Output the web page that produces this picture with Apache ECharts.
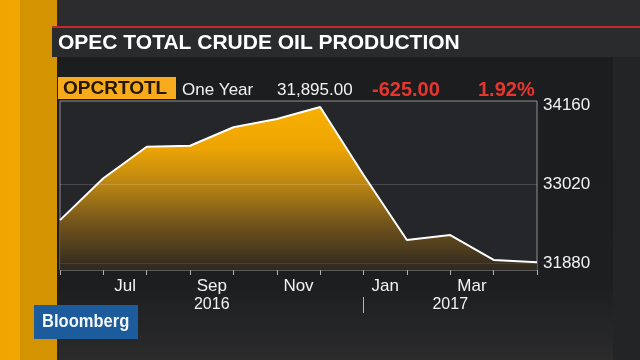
<!DOCTYPE html>
<html><head><meta charset="utf-8">
<script src="https://cdn.jsdelivr.net/npm/echarts@6/dist/echarts.min.js"></script>
<style>html,body{margin:0;padding:0;background:#232426;}#c{width:640px;height:360px;}</style>
</head><body><div id="c"></div>
<script>
// ---- data ----
const dates = ['2016-06','2016-07','2016-08','2016-09','2016-10','2016-11','2016-12','2017-01','2017-02','2017-03','2017-04','2017-05'];
const production = [32505, 33110, 33567, 33580, 33848, 33968, 34140, 33157, 32217, 32289, 31928, 31895];
const monthNames = ['Jun','Jul','Aug','Sep','Oct','Nov','Dec','Jan','Feb','Mar','Apr'];
const shownMonths = ['Jul','Sep','Nov','Jan','Mar'];
const yTickValues = [31880, 32450, 33020, 33590, 34160];
const yLabelValues = [31880, 33020, 34160];
const titleText = 'OPEC TOTAL CRUDE OIL PRODUCTION';
const tickerText = 'OPCRTOTL';
const periodText = 'One Year';
const lastText = '31,895.00';
const changeText = '-625.00';
const pctText = '1.92%';
const brandText = 'Bloomberg';

// year spans derived from the dates
const years = [];
dates.forEach((d, i) => {
  const y = d.slice(0, 4);
  let e = years.find(o => o.year === y);
  if (!e) { e = {year: y, start: i, end: i}; years.push(e); }
});
years.forEach((e, k) => { e.end = k + 1 < years.length ? years[k + 1].start : dates.length - 1; e.center = (e.start + e.end) / 2; });
const yearCenters = years.map(e => e.center);
const yearBreaks = years.slice(1).map(e => e.start);

const chart = echarts.init(document.getElementById('c'));
const font = '"Liberation Sans", Arial, sans-serif';

chart.setOption({
  backgroundColor: '#232426',
  animation: false,
  grid: {left: 60, right: 103, top: 101, bottom: 90, show: true, backgroundColor: '#25262a', borderColor: '#8e8f92', borderWidth: 1, z: 2},
  xAxis: [
    {type: 'category', position: 'bottom', data: dates, boundaryGap: false, axisLine: {show: false},
      axisTick: {show: true, interval: 0, length: 5, lineStyle: {color: '#b5b5b5'}},
      axisLabel: {show: false},
      splitLine: {show: true, interval: (i) => i > 0 && i < dates.length - 1 && i % 2 === 0, lineStyle: {color: 'rgba(255,255,255,0.16)'}}},
    {type: 'category', position: 'bottom', data: monthNames, boundaryGap: true, axisLine: {show: false}, axisTick: {show: false},
      axisLabel: {interval: (i, v) => shownMonths.indexOf(v) >= 0, color: '#f2f2f2', fontSize: 17, fontFamily: font, margin: 8},
      splitLine: {show: false}},
    {type: 'value', position: 'bottom', min: 0, max: dates.length - 1, offset: 27, axisLine: {show: false},
      axisTick: {show: true, customValues: yearBreaks, length: 16, lineStyle: {color: '#b5b5b5'}},
      axisLabel: {customValues: yearCenters, formatter: (v) => { const e = years.find(o => Math.abs(o.center - v) < 1e-6); return e ? e.year : ''; }, color: '#f2f2f2', fontSize: 16, fontFamily: font, margin: 0},
      splitLine: {show: false}}
  ],
  yAxis: [{type: 'value', position: 'right', min: 31783, max: 34228, axisLine: {show: false},
    axisTick: {show: true, customValues: yTickValues, length: 5, lineStyle: {color: '#d0d0d0'}},
    axisLabel: {customValues: yLabelValues, formatter: (v) => String(v), color: '#f2f2f2', fontSize: 17, fontFamily: font, margin: 6},
    splitLine: {show: false}}],
  series: [{type: 'line', data: production, symbol: 'none', z: 3,
    lineStyle: {color: '#ffffff', width: 2},
    areaStyle: {opacity: 1, color: new echarts.graphic.LinearGradient(0, 0, 0, 1, [
      {offset: 0, color: 'rgba(255,180,0,0.97)'},
      {offset: 0.25, color: 'rgba(246,170,2,0.96)'},
      {offset: 0.48, color: 'rgba(194,138,16,0.94)'},
      {offset: 0.7, color: 'rgba(124,90,26,0.93)'},
      {offset: 1, color: 'rgba(46,40,31,0.93)'}])},
    markLine: {silent: true, symbol: 'none', label: {show: false},
      lineStyle: {color: 'rgba(255,255,255,0.16)', type: 'solid', width: 1},
      data: [{yAxis: yLabelValues[0], lineStyle: {color: 'rgba(255,255,255,0.09)'}}, {yAxis: yLabelValues[1]}]}}],
  graphic: [
    {type: 'rect', z: -5, shape: {x: 57, y: 0, width: 583, height: 27}, style: {fill: '#2c2c2e'}},
    {type: 'rect', z: -5, shape: {x: 57, y: 57, width: 556, height: 303}, style: {fill: new echarts.graphic.LinearGradient(0, 0, 0, 1, [{offset: 0, color: '#1c1d1f'}, {offset: 0.75, color: '#1d1e20'}, {offset: 1, color: '#2b2b2c'}])}},
    {type: 'rect', z: -5, shape: {x: 0, y: 0, width: 20, height: 360}, style: {fill: '#f0a500'}},
    {type: 'rect', z: -5, shape: {x: 20, y: 0, width: 37, height: 360}, style: {fill: '#d49300'}},
    {type: 'rect', z: -4, shape: {x: 52, y: 26, width: 588, height: 2}, style: {fill: '#c0282c'}},
    {type: 'rect', z: -4, shape: {x: 52, y: 28, width: 588, height: 29}, style: {fill: '#2a2b2d'}},
    {type: 'text', z: 10, style: {text: titleText, x: 58, y: 43, textVerticalAlign: 'middle', fill: '#ffffff', font: 'bold 21px ' + font}},
    {type: 'rect', z: 5, shape: {x: 58, y: 77, width: 118, height: 22}, style: {fill: '#f6aa1c'}},
    {type: 'text', z: 10, style: {text: tickerText, x: 63, y: 89, textVerticalAlign: 'middle', fill: '#231700', font: 'bold 19px ' + font}},
    {type: 'text', z: 10, style: {text: periodText, x: 182, y: 90, textVerticalAlign: 'middle', fill: '#f2f2f2', font: '17px ' + font}},
    {type: 'text', z: 10, style: {text: lastText, x: 277, y: 90, textVerticalAlign: 'middle', fill: '#f2f2f2', font: '17px ' + font}},
    {type: 'text', z: 10, style: {text: changeText, x: 372, y: 90, textVerticalAlign: 'middle', fill: '#e8362f', font: 'bold 20px ' + font}},
    {type: 'text', z: 10, style: {text: pctText, x: 478, y: 90, textVerticalAlign: 'middle', fill: '#e8362f', font: 'bold 20px ' + font}},
    {type: 'rect', z: 5, shape: {x: 34, y: 305, width: 104, height: 34}, style: {fill: '#1c5b9c'}},
    {type: 'text', z: 10, x: 42, y: 322, scaleX: 0.87, style: {text: brandText, x: 0, y: 0, textVerticalAlign: 'middle', fill: '#f4f6f8', font: 'bold 19px ' + font}}
  ]
});
</script></body></html>
